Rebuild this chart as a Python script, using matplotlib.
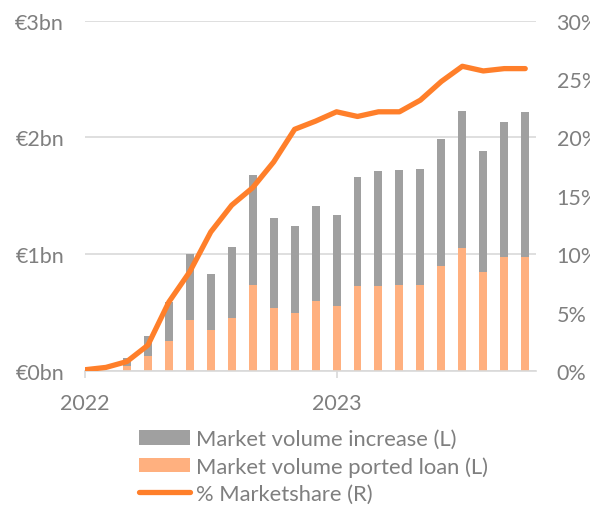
import numpy as np
import matplotlib.pyplot as plt
from matplotlib.ticker import FuncFormatter

plt.rcParams['font.family'] = ['Lato', 'DejaVu Sans']

# Monthly data, Jan 2022 .. Oct 2023 (month index 0..21)
months = np.arange(22)
ported_bn = [0, 0, 0.045, 0.13, 0.26, 0.44, 0.35, 0.45, 0.74, 0.54, 0.50, 0.60,
             0.56, 0.73, 0.73, 0.74, 0.74, 0.90, 1.05, 0.85, 0.98, 0.98]
total_bn = [0, 0, 0.11, 0.30, 0.59, 1.00, 0.83, 1.06, 1.68, 1.31, 1.24, 1.41,
            1.34, 1.66, 1.71, 1.72, 1.73, 1.99, 2.23, 1.88, 2.13, 2.22]
share_pct = [0.1, 0.3, 0.8, 2.2, 5.9, 8.5, 11.9, 14.2, 15.7, 17.9, 20.7, 21.4,
             22.2, 21.8, 22.2, 22.2, 23.2, 24.8, 26.1, 25.7, 25.9, 25.9]
year_ticks = [0, 12]
year_labels = ['2022', '2023']

increase_bn = np.array(total_bn) - np.array(ported_bn)

grey = '#a0a0a0'
light_orange = '#ffb07f'
orange = '#ff7f2a'
text_col = '#7f7f7f'
grid_col = '#d9d9d9'

fig = plt.figure(figsize=(5.9, 5.06), dpi=100)
ax = fig.add_axes([0.144, 0.265, 0.764, 0.692])

b1 = ax.bar(months, ported_bn, width=0.38, color=light_orange, zorder=2,
            label='Market volume ported loan (L)')
b2 = ax.bar(months, increase_bn, width=0.38, bottom=ported_bn, color=grey, zorder=2,
            label='Market volume increase (L)')

ax.set_xlim(0, 21.5)
ax.set_ylim(0, 3)
ax.set_yticks([0, 1, 2, 3])
ax.yaxis.set_major_formatter(FuncFormatter(lambda v, p: f'€{v:.0f}bn'))
ax.grid(axis='y', color=grid_col, linewidth=1.2, zorder=0)
ax.set_axisbelow(True)
ax.set_xticks(year_ticks)
ax.set_xticklabels(year_labels)

for s in ['top', 'right', 'left']:
    ax.spines[s].set_visible(False)
ax.spines['bottom'].set_color(grid_col)
ax.spines['bottom'].set_linewidth(1.2)
ax.tick_params(axis='y', length=0, pad=15, labelsize=15.5, labelcolor=text_col)
ax.tick_params(axis='x', length=5, color=grid_col, width=1.2, pad=11,
               labelsize=15.5, labelcolor=text_col)

ax2 = ax.twinx()
ln, = ax2.plot(months, share_pct, color=orange, linewidth=3.8,
               solid_capstyle='round', label='% Marketshare (R)', zorder=3)
ax2.set_ylim(0, 30)
ax2.set_yticks([0, 5, 10, 15, 20, 25, 30])
ax2.yaxis.set_major_formatter(FuncFormatter(lambda v, p: f'{v:.0f}%'))
ax2.tick_params(axis='y', length=0, pad=15, labelsize=15.5, labelcolor=text_col)
for s in ax2.spines.values():
    s.set_visible(False)

fig.legend([b2, b1, ln],
           ['Market volume increase (L)', 'Market volume ported loan (L)', '% Marketshare (R)'],
           loc='upper left', bbox_to_anchor=(0.235, 0.150), frameon=False,
           fontsize=15.8, labelcolor=text_col, handlelength=2.34, handleheight=0.63,
           handletextpad=0.26, labelspacing=0.32, borderpad=0, borderaxespad=0)

fig.savefig('out.png', dpi=100)
